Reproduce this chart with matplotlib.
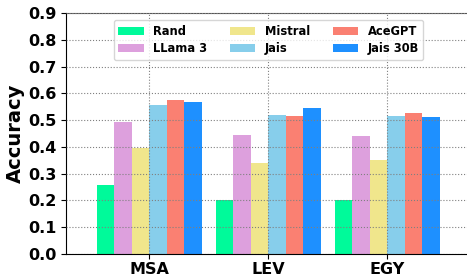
import matplotlib
matplotlib.use("Agg")
import matplotlib.pyplot as plt
import numpy as np

categories = ["MSA", "LEV", "EGY"]
models = ["Rand", "LLama 3", "Mistral", "Jais", "AceGPT", "Jais 30B"]
rand = [0.258, 0.201, 0.201]
llama3 = [0.493, 0.444, 0.441]
mistral = [0.397, 0.340, 0.351]
jais = [0.556, 0.519, 0.515]
acegpt = [0.575, 0.515, 0.526]
jais30b = [0.568, 0.545, 0.512]
series = [rand, llama3, mistral, jais, acegpt, jais30b]
colors = ["mediumspringgreen", "plum", "khaki", "skyblue", "salmon", "dodgerblue"]
yticks = [0.0, 0.1, 0.2, 0.3, 0.4, 0.5, 0.6, 0.7, 0.8, 0.9]

fig = plt.figure(figsize=(4.67, 2.78), dpi=100)
ax = fig.add_axes([66/467, 24/278, 401/467, 241/278])

x = np.arange(len(categories))
w = 0.147
n = len(series)
for i, (vals, c, m) in enumerate(zip(series, colors, models)):
    ax.bar(x + (i - (n - 1) / 2) * w, vals, width=w, color=c, label=m, zorder=1)

ax.set_xlim(-0.7, 2.67)
ax.set_ylim(0, 0.9)
ax.set_xticks(x)
ax.set_xticklabels(categories, fontsize=11.5, fontweight="bold")
ax.set_yticks(yticks)
ax.set_yticklabels([f"{v:.1f}" for v in yticks], fontsize=11.5, fontweight="bold")
ax.set_ylabel("Accuracy", fontsize=14, fontweight="bold", labelpad=2)
ax.grid(True, linestyle=":", color="gray", linewidth=0.8, zorder=3)
ax.set_axisbelow(False)
ax.spines["right"].set_visible(False)
ax.spines["top"].set_color("#555555")
ax.tick_params(axis="both", length=3.5)
ax.tick_params(axis="x", pad=2)

leg = ax.legend(ncol=3, loc="upper center", bbox_to_anchor=(0.505, 0.985),
                prop={"weight": "bold", "size": 8.3}, handlelength=2.2,
                columnspacing=2.0, handletextpad=0.8, labelspacing=0.4,
                framealpha=0.8, borderaxespad=0.3)

fig.savefig("out.png", dpi=100)
